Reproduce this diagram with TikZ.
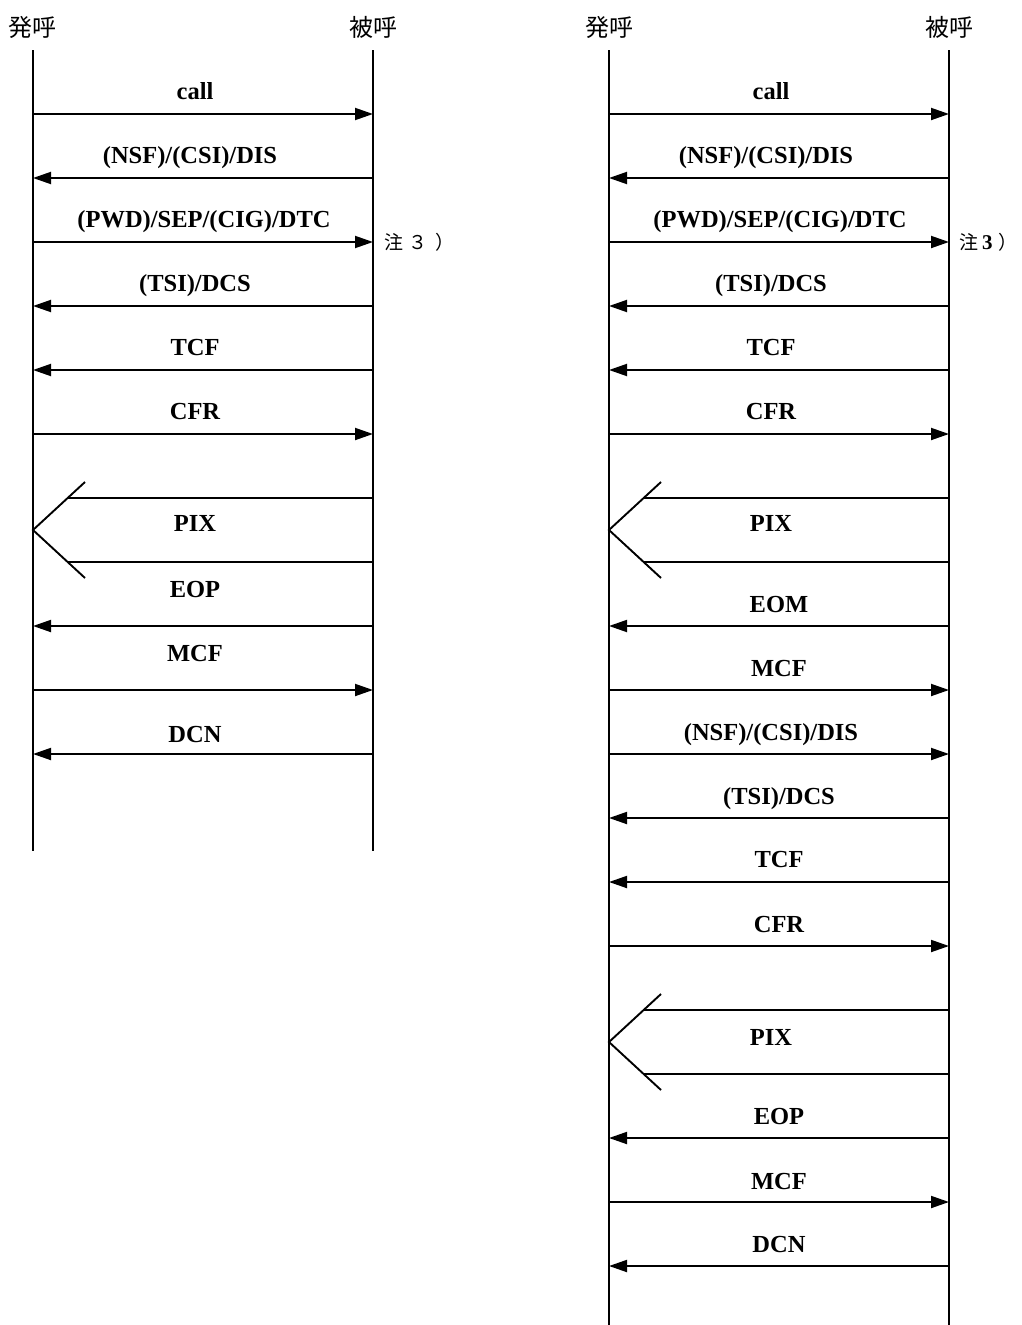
\documentclass[tikz,border=0pt]{standalone}
\usepackage{fontspec}
\setmainfont{Liberation Serif}
\newfontfamily\cjk{Noto Sans CJK JP}
\usetikzlibrary{arrows.meta}
\begin{document}
\begin{tikzpicture}[x=1pt,y=-1pt,
  lifeline/.style={line width=1.8pt},
  msg/.style={line width=1.9pt,-{Triangle[length=18pt,width=12pt]}},
  pixline/.style={line width=1.9pt},
  lbl/.style={font=\fontsize{24.5}{28}\selectfont\bfseries,inner sep=0pt,anchor=base},
  hdr/.style={font=\cjk\fontsize{24}{28}\selectfont,inner sep=0pt},
  note/.style={font=\cjk\fontsize{19}{22}\selectfont,inner sep=0pt,anchor=west}]
\useasboundingbox (0,0) rectangle (1021,1325);

% ---------- left diagram ----------
\node[hdr] (As) at (33,27) {発呼};
\node[hdr] (Ar) at (373,27) {被呼};
\coordinate (AsT) at (33,50);  \coordinate (AsB) at (33,851);
\coordinate (ArT) at (373,50); \coordinate (ArB) at (373,851);
\draw[lifeline] (AsT) -- (AsB);
\draw[lifeline] (ArT) -- (ArB);

\foreach \n/\y in {1/114,2/178,3/242,4/306,5/370,6/434,7/626,8/690,9/754}{
  \coordinate (As\n) at (33,\y);
  \coordinate (Ar\n) at (373,\y);
}
\draw[msg] (As1) -- (Ar1);
\node[lbl] (Al1) at (195,99) {call};
\draw[msg] (Ar2) -- (As2);
\node[lbl] (Al2) at (190,163) {(NSF)/(CSI)/DIS};
\draw[msg] (As3) -- (Ar3);
\node[lbl] (Al3) at (204,227) {(PWD)/SEP/(CIG)/DTC};
\node[note] (An3) at (384,242) {注\hspace{5pt}３\hspace{8pt}）};
\draw[msg] (Ar4) -- (As4);
\node[lbl] (Al4) at (195,291) {(TSI)/DCS};
\draw[msg] (Ar5) -- (As5);
\node[lbl] (Al5) at (195,355) {TCF};
\draw[msg] (As6) -- (Ar6);
\node[lbl] (Al6) at (195,419) {CFR};
% PIX
\coordinate (ApA) at (85,482);
\coordinate (ApX) at (33,530);
\coordinate (ApB) at (85,578);
\coordinate (ApU) at (67.7,498); \coordinate (ApUr) at (373,498);
\coordinate (ApD) at (67.7,562); \coordinate (ApDr) at (373,562);
\draw[pixline] (ApA) -- (ApX) -- (ApB);
\draw[pixline] (ApU) -- (ApUr);
\draw[pixline] (ApD) -- (ApDr);
\node[lbl] (Alp) at (195,531) {PIX};
\draw[msg] (Ar7) -- (As7);
\node[lbl] (Al7) at (195,597) {EOP};
\draw[msg] (As8) -- (Ar8);
\node[lbl] (Al8) at (195,661) {MCF};
\draw[msg] (Ar9) -- (As9);
\node[lbl] (Al9) at (195,742) {DCN};

% ---------- right diagram ----------
\node[hdr] (Bs) at (609,27) {発呼};
\node[hdr] (Br) at (949,27) {被呼};
\coordinate (BsT) at (609,50);  \coordinate (BsB) at (609,1325);
\coordinate (BrT) at (949,50);  \coordinate (BrB) at (949,1325);
\draw[lifeline] (BsT) -- (BsB);
\draw[lifeline] (BrT) -- (BrB);

\foreach \n/\y in {1/114,2/178,3/242,4/306,5/370,6/434,7/626,8/690,9/754,10/818,11/882,12/946,13/1138,14/1202,15/1266}{
  \coordinate (Bs\n) at (609,\y);
  \coordinate (Br\n) at (949,\y);
}
\draw[msg] (Bs1) -- (Br1);
\node[lbl] (Bl1) at (771,99) {call};
\draw[msg] (Br2) -- (Bs2);
\node[lbl] (Bl2) at (766,163) {(NSF)/(CSI)/DIS};
\draw[msg] (Bs3) -- (Br3);
\node[lbl] (Bl3) at (780,227) {(PWD)/SEP/(CIG)/DTC};
\node[note] (Bn3) at (959,242) {注\hspace{4pt}{\rmfamily\bfseries\fontsize{21}{22}\selectfont 3}\hspace{6pt}）};
\draw[msg] (Br4) -- (Bs4);
\node[lbl] (Bl4) at (771,291) {(TSI)/DCS};
\draw[msg] (Br5) -- (Bs5);
\node[lbl] (Bl5) at (771,355) {TCF};
\draw[msg] (Bs6) -- (Br6);
\node[lbl] (Bl6) at (771,419) {CFR};
% PIX 1
\coordinate (BpA) at (661,482);
\coordinate (BpX) at (609,530);
\coordinate (BpB) at (661,578);
\coordinate (BpU) at (643.7,498); \coordinate (BpUr) at (949,498);
\coordinate (BpD) at (643.7,562); \coordinate (BpDr) at (949,562);
\draw[pixline] (BpA) -- (BpX) -- (BpB);
\draw[pixline] (BpU) -- (BpUr);
\draw[pixline] (BpD) -- (BpDr);
\node[lbl] (Blp) at (771,531) {PIX};
\draw[msg] (Br7) -- (Bs7);
\node[lbl] (Bl7) at (779,612) {EOM};
\draw[msg] (Bs8) -- (Br8);
\node[lbl] (Bl8) at (779,676) {MCF};
\draw[msg] (Bs9) -- (Br9);
\node[lbl] (Bl9) at (771,740) {(NSF)/(CSI)/DIS};
\draw[msg] (Br10) -- (Bs10);
\node[lbl] (Bl10) at (779,804) {(TSI)/DCS};
\draw[msg] (Br11) -- (Bs11);
\node[lbl] (Bl11) at (779,867) {TCF};
\draw[msg] (Bs12) -- (Br12);
\node[lbl] (Bl12) at (779,932) {CFR};
% PIX 2
\coordinate (BqA) at (661,994);
\coordinate (BqX) at (609,1042);
\coordinate (BqB) at (661,1090);
\coordinate (BqU) at (643.7,1010); \coordinate (BqUr) at (949,1010);
\coordinate (BqD) at (643.7,1074); \coordinate (BqDr) at (949,1074);
\draw[pixline] (BqA) -- (BqX) -- (BqB);
\draw[pixline] (BqU) -- (BqUr);
\draw[pixline] (BqD) -- (BqDr);
\node[lbl] (Blq) at (771,1045) {PIX};
\draw[msg] (Br13) -- (Bs13);
\node[lbl] (Bl13) at (779,1124) {EOP};
\draw[msg] (Bs14) -- (Br14);
\node[lbl] (Bl14) at (779,1189) {MCF};
\draw[msg] (Br15) -- (Bs15);
\node[lbl] (Bl15) at (779,1252) {DCN};
\end{tikzpicture}
\end{document}
